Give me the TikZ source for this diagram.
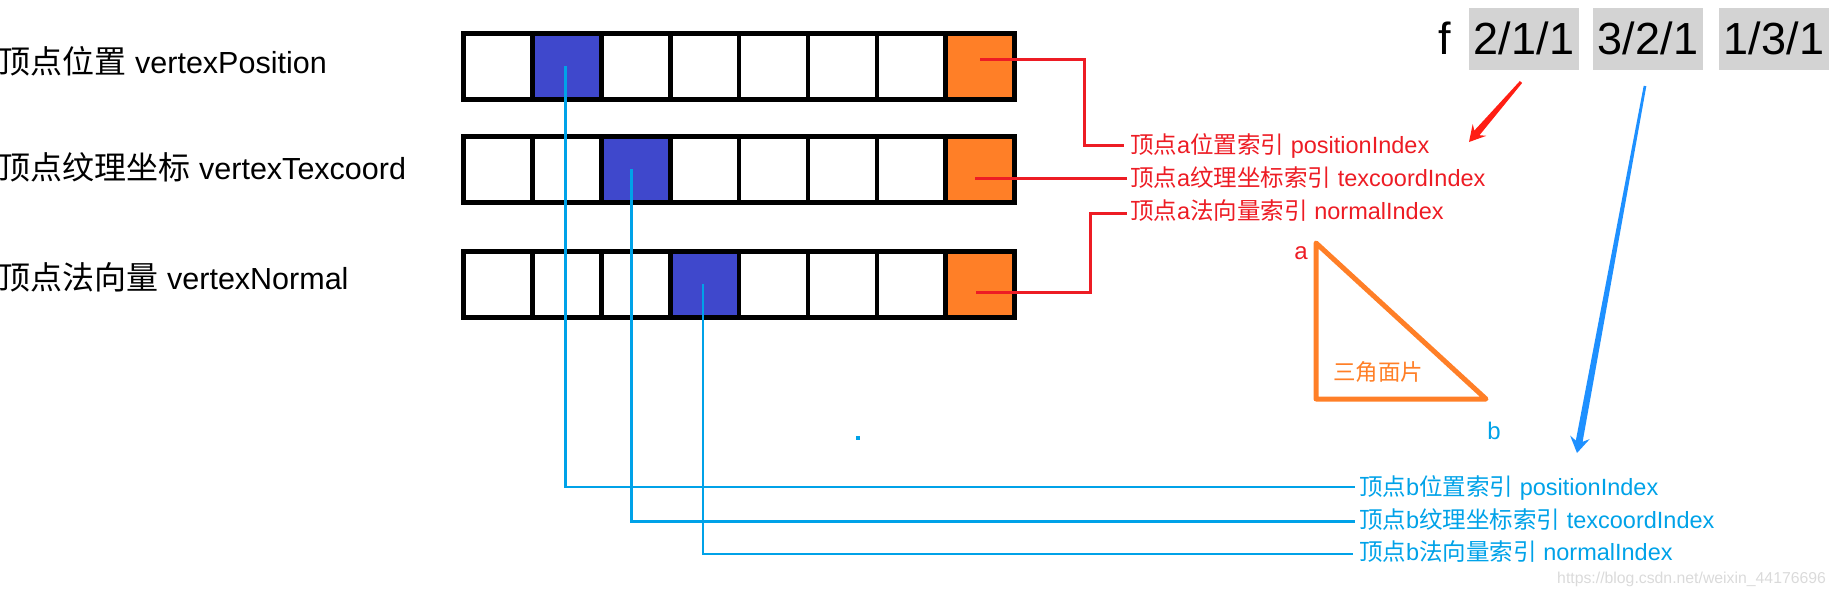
\documentclass[tikz,border=0pt]{standalone}
\usepackage{fontspec}
\setmainfont{Liberation Sans}
\newfontfamily\cjk{Noto Sans CJK SC}
\newcommand\myfs[1]{\fontsize{#1}{#1}\selectfont}
\definecolor{cellblue}{RGB}{63,72,204}
\definecolor{cellorange}{RGB}{255,127,39}
\definecolor{linered}{RGB}{237,28,36}
\definecolor{lineblue}{RGB}{0,162,232}
\definecolor{arrowblue}{RGB}{30,144,255}
\definecolor{arrowred}{RGB}{255,30,20}
\definecolor{boxgray}{RGB}{211,211,211}
\definecolor{wmgray}{RGB}{218,218,218}
\begin{document}
\begin{tikzpicture}[x=1pt,y=-1pt,
  cell/.style={draw=black, line width=4.7pt, minimum width=68.9pt, minimum height=66pt, inner sep=0pt},
  rowlabel/.style={anchor=base west, inner sep=0pt, font=\myfs{30.5}},
  redlabel/.style={anchor=base west, inner sep=0pt, text=linered, font=\myfs{23.5}},
  bluelabel/.style={anchor=base west, inner sep=0pt, text=lineblue, font=\myfs{23.5}},
  redline/.style={draw=linered, line width=3pt},
  blueline/.style={draw=lineblue, line width=2.5pt},
  gbox/.style={fill=boxgray, minimum width=110pt, minimum height=62pt, inner sep=0pt, text height=31pt, text depth=0pt, font=\myfs{45}},
  tri/.style={draw=cellorange, line width=5pt, line join=round}]
\useasboundingbox (0,0) rectangle (1837,594);

% row labels
\node[rowlabel] (l1) at (-1.5,74) {{\cjk\myfs{32}顶点位置} vertexPosition};
\node[rowlabel] (l2) at (-1.5,179) {{\cjk\myfs{32}顶点纹理坐标} vertexTexcoord};
\node[rowlabel] (l3) at (-1.5,289) {{\cjk\myfs{32}顶点法向量} vertexNormal};

% cell rows
\foreach \r/\y/\b in {1/66.3/1,2/169.3/2,3/284.3/3}{
  \foreach \i in {0,...,7}{
    \ifnum\i=\b \def\fc{cellblue}\else\ifnum\i=7 \def\fc{cellorange}\else\def\fc{white}\fi\fi
    \node[cell, fill=\fc] (r\r-\i) at ({497.95+68.9*\i},\y) {};
  }
}

% face text
\node[anchor=base, inner sep=0pt, font=\myfs{45}] (f) at (1445,55) {f};
\node[gbox] (g1) at (1524,39) {2/1/1};
\node[gbox] (g2) at (1648,39) {3/2/1};
\node[gbox] (g3) at (1774,39) {1/3/1};

% red labels
\node[redlabel] (la1) at (1130,153) {{\cjk 顶点}a{\cjk 位置索引} positionIndex};
\node[redlabel] (la2) at (1130,186) {{\cjk 顶点}a{\cjk 纹理坐标索引} texcoordIndex};
\node[redlabel] (la3) at (1130,219.3) {{\cjk 顶点}a{\cjk 法向量索引} normalIndex};
\coordinate (ea1) at ([xshift=-6pt,yshift=8pt]la1.base west);
\coordinate (ea2) at ([xshift=-3pt,yshift=8pt]la2.base west);
\coordinate (ea3) at ([xshift=-3pt,yshift=6.3pt]la3.base west);

% blue labels
\node[bluelabel] (lb1) at (1359,495) {{\cjk 顶点}b{\cjk 位置索引} positionIndex};
\node[bluelabel] (lb2) at (1359,528.3) {{\cjk 顶点}b{\cjk 纹理坐标索引} texcoordIndex};
\node[bluelabel] (lb3) at (1359,560) {{\cjk 顶点}b{\cjk 法向量索引} normalIndex};
\coordinate (eb1) at ([xshift=-4pt,yshift=8pt]lb1.base west);
\coordinate (eb2) at ([xshift=-4pt,yshift=7pt]lb2.base west);
\coordinate (eb3) at ([xshift=-6pt,yshift=6pt]lb3.base west);

% blue connectors
\draw[blueline] ([xshift=-1.5pt]r1-1.center) |- (eb1);
\draw[blueline] ([xshift=-4.5pt]r2-2.center) |- (eb2);
\draw[blueline] ([xshift=-1.5pt]r3-3.center) |- (eb3);
\fill[lineblue] (856,436) rectangle (860,440);

% red connectors
\draw[redline] ([yshift=7pt]r1-7.center) -| ([xshift=-40pt]ea1) -- (ea1);
\draw[redline] ([xshift=-5pt,yshift=-8.7pt]r2-7.center) -- (ea2);
\draw[redline] ([xshift=-4pt,yshift=-7.7pt]r3-7.center) -| ([xshift=-37pt]ea3) -- (ea3);

% triangle
\coordinate (ta) at (1316,243);
\coordinate (tb) at (1486,399);
\coordinate (tc) at (1316,399);
\draw[tri] (ta) -- (tb) -- (tc) -- cycle;
\node[anchor=base, inner sep=0pt, text=linered, font=\myfs{24}] (va) at (1301,259) {a};
\node[anchor=base, inner sep=0pt, text=lineblue, font=\myfs{24}] (vb) at (1494,439) {b};
\node[anchor=base west, inner sep=0pt, text=cellorange, font=\cjk\myfs{22.5}] (face) at (1333,380) {三角面片};

% red arrow
\coordinate (rA) at (1522.1,83.0);
\coordinate (rB) at (1479.5,135.2);
\coordinate (rC) at (1486.3,135.8);
\coordinate (rT) at (1469,142);
\coordinate (rD) at (1472.7,124.0);
\coordinate (rE) at (1474.3,130.6);
\coordinate (rF) at (1519.9,81.0);
\fill[arrowred] (rA) -- (rB) -- (rC) -- (rT) -- (rD) -- (rE) -- (rF) -- cycle;

% blue arrow
\coordinate (bA) at (1646.3,86.2);
\coordinate (bB) at (1582.6,441.8);
\coordinate (bC) at (1589.7,439.1);
\coordinate (bT) at (1577,453);
\coordinate (bD) at (1570.1,435.5);
\coordinate (bE) at (1575.8,440.6);
\coordinate (bF) at (1643.7,85.8);
\fill[arrowblue] (bA) -- (bB) -- (bC) -- (bT) -- (bD) -- (bE) -- (bF) -- cycle;

% watermark
\node[anchor=base west, inner sep=0pt, text=wmgray, font=\myfs{15.8}] (wm) at (1557,583) {https://blog.csdn.net/weixin\_44176696};
\end{tikzpicture}
\end{document}
